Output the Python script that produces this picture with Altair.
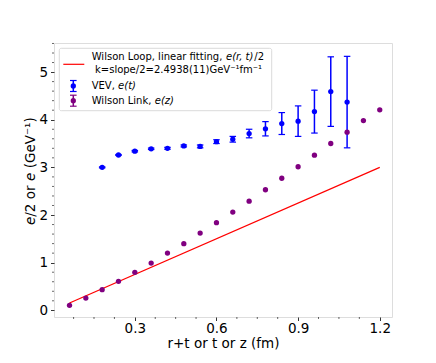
import altair as alt
import pandas as pd

# ---- data ----
link_x = [0.06, 0.12, 0.18, 0.24, 0.30, 0.36, 0.42, 0.48, 0.54, 0.60,
          0.66, 0.72, 0.78, 0.84, 0.90, 0.96, 1.02, 1.08, 1.14, 1.20]
link_y = [0.105, 0.258, 0.434, 0.608, 0.797, 0.992, 1.201, 1.398, 1.621, 1.839,
          2.061, 2.291, 2.530, 2.772, 3.013, 3.256, 3.501, 3.738, 3.983, 4.208]

vev_x = [0.18, 0.24, 0.30, 0.36, 0.42, 0.48, 0.54, 0.60,
         0.66, 0.72, 0.78, 0.84, 0.90, 0.96, 1.02, 1.08]
vev_y = [3.00, 3.26, 3.34, 3.39, 3.40, 3.45, 3.44, 3.54,
         3.59, 3.71, 3.81, 3.92, 3.97, 4.17, 4.59, 4.37]
vev_err = [0.01, 0.01, 0.015, 0.015, 0.02, 0.02, 0.03, 0.04,
           0.06, 0.09, 0.15, 0.23, 0.32, 0.45, 0.73, 0.96]

fit_x = [0.06, 1.20]
fit_y = [0.155, 3.000]

x_ticks = [0.3, 0.6, 0.9, 1.2]
x_minor = [0.075, 0.15, 0.225, 0.375, 0.45, 0.525, 0.675, 0.75, 0.825,
           0.975, 1.05, 1.125]
y_ticks = [0, 1, 2, 3, 4, 5]
y_minor = [0.2, 0.4, 0.6, 0.8, 1.2, 1.4, 1.6, 1.8, 2.2, 2.4, 2.6, 2.8,
           3.2, 3.4, 3.6, 3.8, 4.2, 4.4, 4.6, 4.8, 5.2, 5.4, 5.6]

x_title = "r+t or t or z (fm)"
y_title_parts = ["e", "/2 or ", "e", "(GeV⁻¹)"]
legend_fit = ["Wilson Loop, linear fitting, ", "e(r, t)", "/2",
              "k=slope/2=2.4938(11)GeV⁻¹fm⁻¹"]
legend_vev = ["VEV, ", "e(t)"]
legend_link = ["Wilson Link, ", "e(z)"]

BLUE = "#0000ff"
PURPLE = "#800080"
RED = "#ff0000"
FONT = "DejaVu Sans"
W, H = 338, 274

# ---- frames ----
link_df = pd.DataFrame({"x": link_x, "y": link_y})
vev_df = pd.DataFrame({"x": vev_x, "y": vev_y, "err": vev_err})
vev_df["lo"] = vev_df["y"] - vev_df["err"]
vev_df["hi"] = vev_df["y"] + vev_df["err"]
fit_df = pd.DataFrame({"x": fit_x, "y": fit_y})

xs = alt.Scale(domain=[0.003, 1.245], nice=False, zero=False)
ys = alt.Scale(domain=[-0.14, 5.61], nice=False, zero=False)

x_axis = alt.Axis(values=x_ticks, format=".1f", title=x_title, grid=False,
                  domain=False, tickSize=3.5, tickWidth=0.8, tickColor="black",
                  labelFontSize=13.5, labelColor="black", labelPadding=1,
                  titleFontSize=13.5, titleFontWeight="normal", titleColor="black",
                  titlePadding=1, labelFont=FONT, titleFont=FONT)
y_axis = alt.Axis(values=y_ticks, format="d", title=None, grid=False,
                  domain=False, tickSize=3.5, tickWidth=0.8, tickColor="black",
                  labelFontSize=13.5, labelColor="black", labelPadding=3,
                  labelFont=FONT)

fit = alt.Chart(fit_df).mark_line(color=RED, strokeWidth=1.2).encode(
    x=alt.X("x:Q", scale=xs, axis=x_axis),
    y=alt.Y("y:Q", scale=ys, axis=y_axis),
)

bars = alt.Chart(vev_df).mark_rule(color=BLUE, strokeWidth=1.5).encode(
    x="x:Q", y="lo:Q", y2="hi:Q")
cap_lo = alt.Chart(vev_df).mark_tick(color=BLUE, orient="horizontal", size=6.5,
                                     thickness=1.2, opacity=1).encode(x="x:Q", y="lo:Q")
cap_hi = alt.Chart(vev_df).mark_tick(color=BLUE, orient="horizontal", size=6.5,
                                     thickness=1.2, opacity=1).encode(x="x:Q", y="hi:Q")
vev_pts = alt.Chart(vev_df).mark_circle(color=BLUE, size=28, opacity=1).encode(
    x="x:Q", y="y:Q")
link_pts = alt.Chart(link_df).mark_circle(color=PURPLE, size=28, opacity=1).encode(
    x="x:Q", y="y:Q")

# minor ticks
xm = alt.Chart(pd.DataFrame({"x": x_minor})).mark_rule(color="black", strokeWidth=0.6).encode(
    x="x:Q", y=alt.value(H), y2=alt.value(H + 2))
ym = alt.Chart(pd.DataFrame({"y": y_minor})).mark_rule(color="black", strokeWidth=0.6).encode(
    y="y:Q", x=alt.value(0), x2=alt.value(-2))

one = alt.Data(values=[{"a": 1}])

def txt(s, x, y, size=10, italic=False, angle=None):
    kw = dict(align="left", baseline="middle", fontSize=size, font=FONT,
              color="black", text=s)
    if italic:
        kw["fontStyle"] = "italic"
    if angle is not None:
        kw["angle"] = angle
    return alt.Chart(one).mark_text(**kw).encode(x=alt.value(x), y=alt.value(y))

# y axis title as pieces (italic e)
yt_x = -23
yt = [
    txt(y_title_parts[0], yt_x, 182, 13.5, True, 270),
    txt(y_title_parts[1], yt_x, 173.7, 13.5, False, 270),
    txt(y_title_parts[2], yt_x, 138.0, 13.5, True, 270),
    txt(y_title_parts[3], yt_x, 125.3, 13.5, False, 270),
]

# legend
box = alt.Chart(one).mark_rect(fill="white", fillOpacity=0.8, stroke="#d0d0d0",
                               strokeWidth=0.8, cornerRadius=2).encode(
    x=alt.value(5.3), x2=alt.value(217.7), y=alt.value(5.3), y2=alt.value(67.7))
leg_line = alt.Chart(one).mark_rule(color=RED, strokeWidth=1.2).encode(
    x=alt.value(9.3), x2=alt.value(30.3), y=alt.value(21.3))

def leg_err(color, cy):
    bar = alt.Chart(one).mark_rule(color=color, strokeWidth=1.5).encode(
        x=alt.value(19.3), y=alt.value(cy - 5.5), y2=alt.value(cy + 5.5))
    c1 = alt.Chart(one).mark_rule(color=color, strokeWidth=1.2).encode(
        x=alt.value(16.0), x2=alt.value(22.6), y=alt.value(cy - 5.5))
    c2 = alt.Chart(one).mark_rule(color=color, strokeWidth=1.2).encode(
        x=alt.value(16.0), x2=alt.value(22.6), y=alt.value(cy + 5.5))
    dot = alt.Chart(one).mark_circle(color=color, size=28, opacity=1).encode(
        x=alt.value(19.3), y=alt.value(cy))
    return [bar, c1, c2, dot]

leg = [box, leg_line,
       txt(legend_fit[0], 37.7, 13.5), txt(legend_fit[1], 172.0, 13.5, italic=True),
       txt(legend_fit[2], 200.3, 13.5), txt(legend_fit[3], 41.0, 27.0)]
leg += leg_err(BLUE, 43.0)
leg += [txt(legend_vev[0], 37.7, 43.0), txt(legend_vev[1], 64.1, 43.0, italic=True)]
leg += leg_err(PURPLE, 57.7)
leg += [txt(legend_link[0], 37.7, 57.7), txt(legend_link[1], 100.8, 57.7, italic=True)]

chart = alt.layer(fit, xm, ym, bars, cap_lo, cap_hi, vev_pts, link_pts, *yt, *leg).properties(
    width=W, height=H,
    autosize=alt.AutoSizeParams(type="none"),
    padding={"left": 46, "top": 35, "right": 32, "bottom": 36},
).configure_view(stroke="black", strokeWidth=0.8).configure(font=FONT)

chart.save("out.html", embed_options={"renderer": "svg", "actions": False})
